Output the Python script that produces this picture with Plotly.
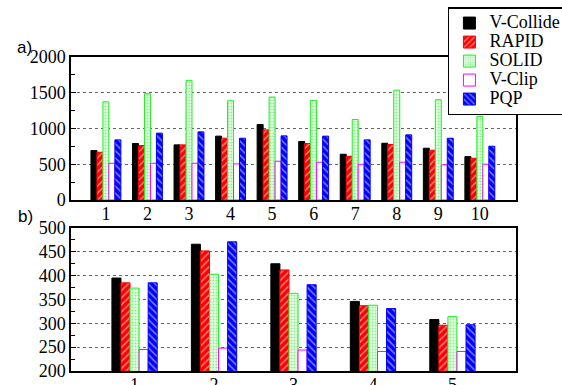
import plotly.graph_objects as go
from plotly.subplots import make_subplots

series = ["V-Collide", "RAPID", "SOLID", "V-Clip", "PQP"]

cats_a = [1, 2, 3, 4, 5, 6, 7, 8, 9, 10]
vcollide_a = [692, 790, 771, 893, 1056, 818, 640, 794, 724, 607]
rapid_a = [668, 762, 771, 864, 981, 790, 612, 776, 696, 584]
solid_a = [1374, 1486, 1673, 1388, 1439, 1393, 1126, 1537, 1402, 1168]
vclip_a = [514, 514, 514, 505, 542, 528, 500, 528, 491, 500]
pqp_a = [841, 935, 953, 864, 897, 893, 841, 911, 864, 752]

cats_b = [1, 2, 3, 4, 5]
vcollide_b = [395, 466, 425, 346, 308]
rapid_b = [385, 452, 412, 337, 296]
solid_b = [374, 403, 363, 338, 314]
vclip_b = [245, 248, 244, 241, 241]
pqp_b = [385, 471, 381, 331, 297]

data_a = [vcollide_a, rapid_a, solid_a, vclip_a, pqp_a]
data_b = [vcollide_b, rapid_b, solid_b, vclip_b, pqp_b]

styles = [
    dict(color="black", line=dict(color="black", width=1)),
    dict(color="#ff0000", line=dict(color="#ff0000", width=1),
         pattern=dict(shape="/", fgcolor="white", bgcolor="#ff0000", size=5, solidity=0.3)),
    dict(color="#22ee22", line=dict(color="#22ee22", width=1),
         pattern=dict(shape=".", fgcolor="#33dd33", bgcolor="#eaffea", size=3, solidity=0.4)),
    dict(color="white", line=dict(color="#ff00ff", width=1)),
    dict(color="#0000ff", line=dict(color="#0000ff", width=1),
         pattern=dict(shape="\\", fgcolor="white", bgcolor="#0000ff", size=5, solidity=0.3)),
]

fig = make_subplots(rows=2, cols=1, vertical_spacing=0.0892)
fig.update_yaxes(domain=[0.5446, 1.0], row=1, col=1)
fig.update_yaxes(domain=[0.0, 0.4554], row=2, col=1)

wa = 0.72 / 5
wb = 0.57 / 5
for i, name in enumerate(series):
    label = "<span style='font-size:18px'>%s</span>" % name
    fig.add_trace(go.Bar(x=cats_a, y=data_a[i], name=label, marker=styles[i],
                         width=wa, offset=-0.36 + i * wa, showlegend=True),
                  row=1, col=1)
    fig.add_trace(go.Bar(x=cats_b, y=data_b[i], name=label, marker=styles[i],
                         width=wb, offset=-0.285 + i * wb, showlegend=False),
                  row=2, col=1)

font = dict(family="Liberation Serif", size=18, color="black")
axcommon = dict(showline=True, linecolor="black", linewidth=1.5, mirror=True,
                tickfont=font)
fig.update_xaxes(**axcommon, ticks="", showgrid=False, zeroline=False,
                 ticklabelstandoff=-3)
fig.update_xaxes(range=[0.16, 10.87], tickvals=cats_a, row=1, col=1)
fig.update_xaxes(range=[0.2, 5.8], tickvals=cats_b, row=2, col=1)

ycommon = dict(ticks="inside", ticklen=5, tickcolor="black", showgrid=True,
               gridcolor="#666666", griddash="dot", gridwidth=1, zeroline=False)
fig.update_yaxes(**axcommon, **ycommon)
fig.update_yaxes(range=[0, 2000], dtick=500,
                 minor=dict(dtick=250, ticks="inside", ticklen=4, tickcolor="black", showgrid=False),
                 row=1, col=1)
fig.update_yaxes(range=[200, 500], dtick=50,
                 minor=dict(dtick=25, ticks="inside", ticklen=4, tickcolor="black", showgrid=False),
                 row=2, col=1)

lab_font = dict(family="Liberation Sans", size=17, color="black")
fig.add_annotation(text="a)", xref="paper", yref="paper", x=-0.126, y=1.03,
                   xanchor="left", yanchor="middle", showarrow=False, font=lab_font)
fig.add_annotation(text="b)", xref="paper", yref="paper", x=-0.124, y=0.492,
                   xanchor="left", yanchor="middle", showarrow=False, font=lab_font)

fig.update_layout(
    width=562, height=385,
    margin=dict(l=71, r=46, t=57, b=14, autoexpand=False),
    paper_bgcolor="white", plot_bgcolor="white",
    barmode="overlay",
    legend=dict(x=0.847, y=1.159, xanchor="left", yanchor="top",
                bgcolor="white", bordercolor="black", borderwidth=1.5,
                font=dict(family="Liberation Serif", size=12, color="black"),
                itemwidth=30, tracegroupgap=0),
    showlegend=True,
)

fig.write_html("out.html", config={"displayModeBar": False},
               post_script="document.body.style.margin='0';document.body.style.overflow='hidden';")
